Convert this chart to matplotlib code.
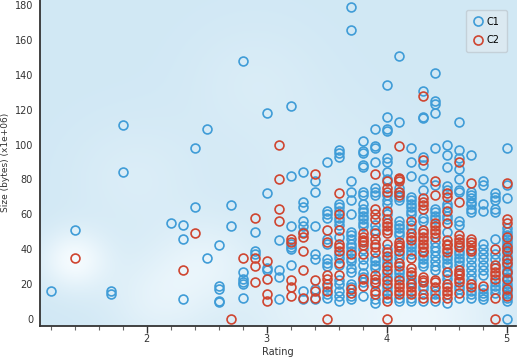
import numpy as np
import matplotlib
matplotlib.use('Agg')
import matplotlib.pyplot as plt
from matplotlib.lines import Line2D

# 评分列（横轴）
ratings = [1.2, 1.4, 1.7, 1.8, 2.2, 2.3, 2.4, 2.5, 2.6, 2.7, 2.8, 2.9,
           3.0, 3.1, 3.2, 3.3, 3.4, 3.5, 3.6, 3.7, 3.8, 3.9,
           4.0, 4.1, 4.2, 4.3, 4.4, 4.5, 4.6, 4.7, 4.8, 4.9, 5.0]

# C1 每个评分下的大小 (x1e+06)
c1_sizes = [
    [16], [51], [16, 14], [111, 84], [55], [54, 46, 11], [98, 64], [109, 35],
    [42, 19, 17, 10, 9.5], [65, 53], [148, 27, 23, 21, 20, 12], [50, 39, 37],
    [118, 72, 29, 28],
    [45, 28, 24, 11],
    [122, 82, 53, 43, 41, 40, 31],
    [84, 67, 64, 56, 53, 50, 16, 11],
    [79, 73, 53, 37, 34, 17, 11],
    [90, 62, 60, 58, 46, 43, 34, 32, 30, 18, 14, 12],
    [97, 95, 93, 66, 64, 62, 58, 56, 54, 47, 37, 35, 31, 22, 20, 16, 13, 10],
    [179, 166, 79, 73, 68, 60, 50, 48, 46, 43, 41, 39, 35, 33, 29, 27, 20, 18, 13, 11],
    [102, 96, 95, 88, 87, 73, 71, 66, 63, 61, 59, 57, 55, 53, 40, 34, 31, 26, 24, 21, 13],
    [109, 99, 98, 90, 75, 73, 71, 54, 51, 35, 33, 31, 29, 20, 11, 9],
    [134, 116, 109, 108, 92, 90, 84, 80, 71, 68, 66, 60, 40, 34, 32, 26, 24, 18, 16, 12],
    [151, 113, 75, 73, 70, 68, 56, 54, 52, 50, 48, 37, 35, 28, 26, 24, 12, 10],
    [98, 90, 82, 70, 68, 66, 64, 62, 60, 54, 52, 43, 41, 39, 37, 23, 21, 12, 10],
    [131, 116, 115, 93, 88, 80, 74, 58, 56, 36, 34, 32, 30, 19, 17, 10],
    [141, 125, 123, 118, 98, 77, 63, 61, 59, 57, 44, 41, 39, 36, 33, 30, 28, 16, 14, 10],
    [100, 94, 87, 76, 74, 66, 64, 59, 57, 50, 36, 34, 32, 30, 25, 23, 9],
    [113, 97, 92, 86, 80, 74, 73, 56, 54, 39, 37, 35, 33, 31, 19, 17, 12],
    [94, 73, 71, 69, 67, 66, 63, 61, 37, 34, 31, 28, 25, 22, 16, 14, 12],
    [79, 77, 66, 62, 43, 40, 37, 34, 31, 28, 25, 17, 15, 13, 11],
    [72, 70, 68, 63, 61, 46, 37, 34, 21, 19, 17, 15],
    [98, 77, 69, 52, 50, 48, 46, 44, 42, 40, 38, 36, 34, 32, 30, 28, 26, 24, 22,
     20, 18, 16, 14, 12, 10, 0],
]

# C2 每个评分下的大小 (x1e+06)
c2_sizes = [
    [], [35], [], [], [], [28], [49], [], [], [0], [35], [58, 35, 30, 21],
    [33, 23, 14, 10],
    [100, 80, 63, 56],
    [46, 44, 22, 18, 13],
    [49, 47, 39, 28, 12],
    [83, 22, 16, 12],
    [51, 44, 25, 23, 20, 16, 0],
    [72, 60, 51, 43, 41, 39, 32, 25],
    [37, 17, 15],
    [49, 47, 45, 44, 42, 37, 23, 19],
    [83, 63, 60, 57, 49, 46, 43, 41, 38, 25, 23, 21, 16, 14],
    [79, 75, 73, 62, 57, 55, 53, 51, 49, 43, 38, 36, 30, 28, 22, 20, 14, 10, 0],
    [99, 81, 80, 79, 73, 71, 44, 42, 41, 39, 32, 30, 22, 20, 18, 16, 14],
    [56, 49, 47, 45, 35, 29, 27, 25, 20, 18, 16, 14],
    [128, 91, 69, 67, 65, 63, 51, 49, 47, 45, 43, 41, 39, 38, 24, 22, 21, 14, 12],
    [79, 71, 55, 53, 51, 49, 47, 22, 21, 18, 12],
    [72, 70, 62, 55, 45, 43, 42, 40, 38, 27, 20, 18, 16, 14, 12],
    [90, 67, 48, 46, 44, 42, 41, 28, 26, 25, 23, 21, 15],
    [78, 46, 44, 42, 40, 39, 20, 18],
    [19],
    [40, 31, 29, 27, 25, 23, 12, 0],
    [78, 57, 55, 47, 41, 39, 34, 32, 27, 23, 17, 13],
]

x_ticks = [2, 3, 4, 5]
y_ticks = [0, 20, 40, 60, 80, 100, 120, 140, 160, 180]

blue = '#3f9cd7'
red = '#cf4530'


def flatten(sizes):
    xs, ys = [], []
    for r, vals in zip(ratings, sizes):
        xs += [r] * len(vals)
        ys += vals
    return xs, ys


fig = plt.figure(figsize=(5.19, 3.57), dpi=100)
ax = fig.add_axes([0.077, 0.088, 0.918, 0.912])

xmin, xmax, ymin, ymax = 1.11, 5.08, -4, 183

# 背景渐变（浅蓝 + 白色光斑）
gx, gy = np.meshgrid(np.linspace(0, 1, 300), np.linspace(0, 1, 200))
light = np.zeros_like(gx)
for cx, cy, s, w in [(0.07, 0.2, 0.05, 0.9), (0.25, 0.08, 0.08, 0.5),
                     (0.35, 0.2, 0.07, 0.45), (0.8, 0.02, 0.12, 0.7),
                     (0.55, 0.05, 0.1, 0.4), (0.2, 0.45, 0.1, 0.25),
                     (0.6, 0.45, 0.12, 0.2), (0.45, 0.75, 0.1, 0.2)]:
    light += w * np.exp(-((gx - cx) ** 2 / (2 * s ** 2) + (gy - cy) ** 2 / (2 * (s * 1.3) ** 2)))
light = np.clip(light, 0, 1)
base = np.array([0.82, 0.91, 0.96])
img = base + (np.array([0.97, 0.99, 1.0]) - base) * light[..., None]
ax.imshow(img, extent=[xmin, xmax, ymin, ymax], origin='lower', aspect='auto', zorder=0)

x1, y1 = flatten(c1_sizes)
x2, y2 = flatten(c2_sizes)
ax.plot(x1, y1, 'o', ls='none', ms=6.4, mfc='none', mec=blue, mew=1.2, zorder=2)
ax.plot(x2, y2, 'o', ls='none', ms=6.4, mfc='none', mec=red, mew=1.2, zorder=3)

ax.set_xlim(xmin, xmax)
ax.set_ylim(ymin, ymax)
ax.set_xticks(x_ticks)
ax.set_xticks(np.arange(1.2, 5.01, 0.2), minor=True)
ax.set_yticks(y_ticks)
ax.tick_params(axis='x', which='major', length=5, width=1, labelsize=7, colors='#333333', pad=1)
ax.tick_params(axis='x', which='minor', length=3, width=0.8, colors='#666666')
ax.tick_params(axis='y', length=0, labelsize=7, colors='#333333', pad=5)
for s in ['top', 'right']:
    ax.spines[s].set_visible(False)
for s in ['left', 'bottom']:
    ax.spines[s].set_color('#333333')
    ax.spines[s].set_linewidth(1.3)

ax.set_xlabel('Rating', fontsize=7, color='#333333', labelpad=2)
ax.set_ylabel('Size (bytes) (x1e+06)', fontsize=6.5, color='#333333', labelpad=3)

handles = [Line2D([], [], marker='o', ls='none', ms=6.5, mfc='none', mec=blue, mew=1.2, label='C1'),
           Line2D([], [], marker='o', ls='none', ms=6.5, mfc='none', mec=red, mew=1.2, label='C2')]
leg = ax.legend(handles=handles, loc='upper right', bbox_to_anchor=(0.99, 0.985), fontsize=7,
                frameon=True, fancybox=True, handletextpad=0.3, borderpad=0.7, labelspacing=0.9,
                handlelength=1.2)
leg.get_frame().set_facecolor('#dbe9f1')
leg.get_frame().set_edgecolor('#c4d0d8')
leg.get_frame().set_alpha(1)

plt.savefig('out.png', dpi=100)
